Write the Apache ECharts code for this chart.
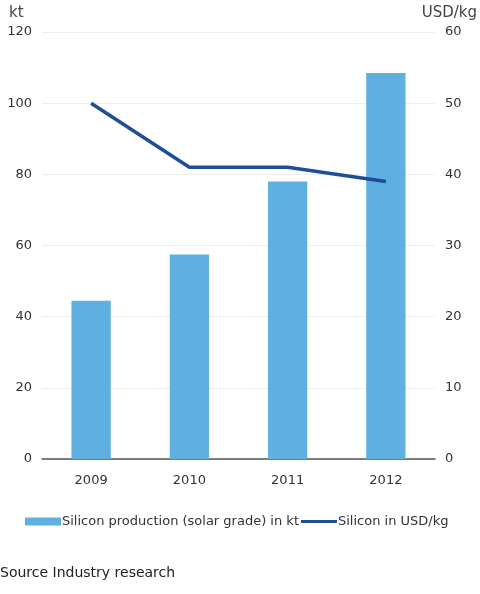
<!DOCTYPE html>
<html>
<head>
    <meta charset="UTF-8">
    <title>Silicon production</title>
    <script src="https://cdn.jsdelivr.net/npm/echarts@6/dist/echarts.min.js"></script>
    <style>
        html, body { margin: 0; padding: 0; background: #fff; }
        #main { width: 480px; height: 594px; }
    </style>
</head>
<body>
<div id="main"></div>
<script type="text/javascript">
    // data
    var years = ['2009', '2010', '2011', '2012'];
    var productionKt = [44.5, 57.5, 78, 108.5];
    var priceUsdKg = [50, 41, 41, 39];
    var leftTicks = [0, 120, 20];   // min, max, interval
    var rightTicks = [0, 60, 10];

    var barName = 'Silicon production (solar grade) in kt';
    var lineName = 'Silicon in USD/kg';
    var font = 'DejaVu Sans';

    var chart = echarts.init(document.getElementById('main'));

    var option = {
        animation: false,
        textStyle: {fontFamily: font},
        grid: {left: 42, right: 45, top: 32, bottom: 135},
        legend: {
            left: 20,
            top: 510,
            itemGap: 2,
            itemWidth: 36,
            itemHeight: 8,
            textStyle: {fontSize: 13, color: '#333', padding: [0, 0, 0, -4]},
            data: [
                {name: barName, icon: 'rect'},
                {name: lineName, icon: 'path://M0,0 L40,0 L40,3.4 L0,3.4 Z'}
            ]
        },
        xAxis: {
            type: 'category',
            data: years,
            axisTick: {show: false},
            axisLine: {lineStyle: {color: '#555', width: 1.5}},
            axisLabel: {color: '#333', fontSize: 13, margin: 15}
        },
        yAxis: [{
            type: 'value',
            min: leftTicks[0], max: leftTicks[1], interval: leftTicks[2],
            axisLine: {show: false},
            axisTick: {show: false},
            axisLabel: {color: '#333', fontSize: 13, margin: 10},
            splitLine: {lineStyle: {color: '#eeeeee'}}
        }, {
            type: 'value',
            min: rightTicks[0], max: rightTicks[1], interval: rightTicks[2],
            axisLine: {show: false},
            axisTick: {show: false},
            axisLabel: {color: '#333', fontSize: 13, margin: 10},
            splitLine: {show: false}
        }],
        graphic: [
            {type: 'text', left: 9, top: 6, style: {text: 'kt', fill: '#444', font: '15px ' + font}},
            {type: 'text', right: 3, top: 6, style: {text: 'USD/kg', fill: '#444', font: '15px ' + font}},
            {type: 'text', left: 0, top: 566, style: {text: 'Source Industry research', fill: '#222', font: '14px ' + font}}
        ],
        series: [{
            name: barName,
            type: 'bar',
            data: productionKt,
            barWidth: '40%',
            itemStyle: {color: '#5fb0e1'}
        }, {
            name: lineName,
            type: 'line',
            yAxisIndex: 1,
            data: priceUsdKg,
            symbol: 'none',
            lineStyle: {color: '#1d4e97', width: 3.5},
            itemStyle: {color: '#1d4e97'}
        }]
    };

    chart.setOption(option);
</script>
</body>
</html>
